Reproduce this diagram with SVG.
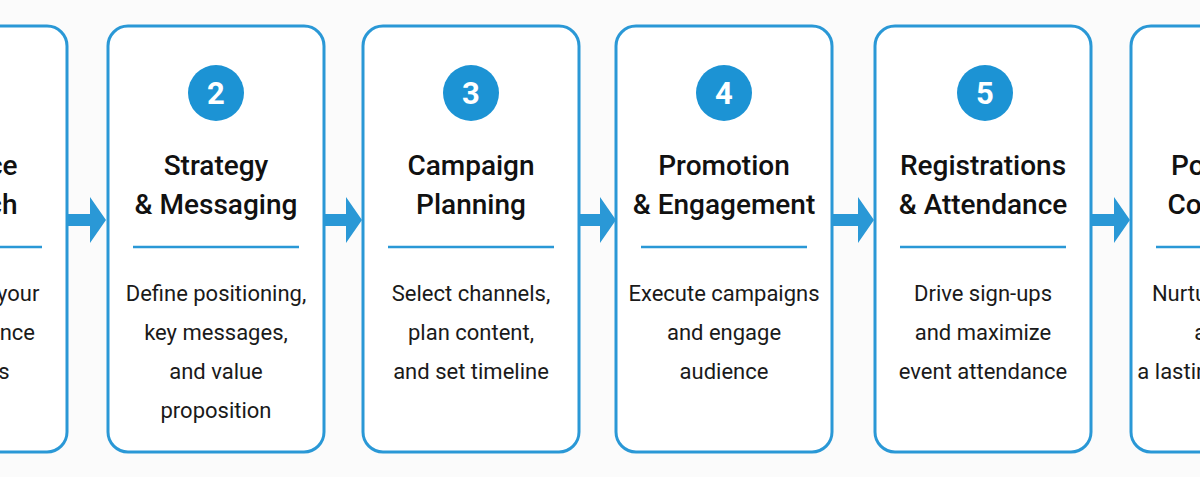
<svg xmlns="http://www.w3.org/2000/svg" width="1200" height="477" viewBox="0 0 1200 477">
<style>
.box{fill:#fff;stroke:#2a98d6;stroke-width:3}
.num{fill:#1c93d4}
.nt{font-family:Roboto,"Liberation Sans",sans-serif;font-weight:bold;font-size:31px;fill:#fff;text-anchor:middle}
.t{font-family:Roboto,"Liberation Sans",sans-serif;font-weight:500;font-size:28px;fill:#111;text-anchor:middle}
.b{font-family:Roboto,"Liberation Sans",sans-serif;font-size:22px;fill:#1a1a1a;text-anchor:middle}
.div{stroke:#2a98d6;stroke-width:2.5}
.arr{fill:#2a98d6}
</style>
<rect width="1200" height="477" fill="#fbfbfb"/>
<g id="node1">
<rect class="box" x="-149" y="26" width="216" height="426" rx="20"/>
<text class="t" x="-41" y="175">Audience</text>
<text class="t" x="-41" y="214">Research</text>
<line class="div" x1="-124" y1="247" x2="42" y2="247"/>
<text class="b" x="-41" y="301">Understand your</text>
<text class="b" x="-41" y="340">target audience</text>
<text class="b" x="-41" y="379">and needs</text>
</g>
<g id="node2">
<rect class="box" x="108" y="26" width="216" height="426" rx="20"/>
<circle class="num" cx="216" cy="93" r="28"/><text class="nt" x="216" y="104">2</text>
<text class="t" x="216" y="175">Strategy</text>
<text class="t" x="216" y="214">&amp; Messaging</text>
<line class="div" x1="133" y1="247" x2="299" y2="247"/>
<text class="b" x="216" y="301">Define positioning,</text>
<text class="b" x="216" y="340">key messages,</text>
<text class="b" x="216" y="379">and value</text>
<text class="b" x="216" y="418">proposition</text>
</g>
<g id="node3">
<rect class="box" x="363" y="26" width="216" height="426" rx="20"/>
<circle class="num" cx="471" cy="93" r="28"/><text class="nt" x="471" y="104">3</text>
<text class="t" x="471" y="175">Campaign</text>
<text class="t" x="471" y="214">Planning</text>
<line class="div" x1="388" y1="247" x2="554" y2="247"/>
<text class="b" x="471" y="301">Select channels,</text>
<text class="b" x="471" y="340">plan content,</text>
<text class="b" x="471" y="379">and set timeline</text>
</g>
<g id="node4">
<rect class="box" x="616" y="26" width="216" height="426" rx="20"/>
<circle class="num" cx="724" cy="93" r="28"/><text class="nt" x="724" y="104">4</text>
<text class="t" x="724" y="175">Promotion</text>
<text class="t" x="724" y="214">&amp; Engagement</text>
<line class="div" x1="641" y1="247" x2="807" y2="247"/>
<text class="b" x="724" y="301">Execute campaigns</text>
<text class="b" x="724" y="340">and engage</text>
<text class="b" x="724" y="379">audience</text>
</g>
<g id="node5">
<rect class="box" x="875" y="26" width="216" height="426" rx="20"/>
<circle class="num" cx="985" cy="93" r="28"/><text class="nt" x="985" y="104">5</text>
<text class="t" x="983" y="175">Registrations</text>
<text class="t" x="983" y="214">&amp; Attendance</text>
<line class="div" x1="900" y1="247" x2="1066" y2="247"/>
<text class="b" x="983" y="301">Drive sign-ups</text>
<text class="b" x="983" y="340">and maximize</text>
<text class="b" x="983" y="379">event attendance</text>
</g>
<g id="node6">
<rect class="box" x="1131" y="26" width="216" height="426" rx="20"/>
<text class="t" x="1239" y="175">Post-Event</text>
<text class="t" x="1239" y="214">Connection</text>
<line class="div" x1="1156" y1="247" x2="1322" y2="247"/>
<text class="b" x="1239" y="301">Nurture leads and</text>
<text class="b" x="1239" y="340">and build</text>
<text class="b" x="1239" y="379">a lasting relationship</text>
</g>
<g id="connectors">
<path class="arr" d="M68,214 h22 v-17 l16,23 l-16,23 v-17 h-22z"/>
<path class="arr" d="M324,214 h22 v-17 l16,23 l-16,23 v-17 h-22z"/>
<path class="arr" d="M579,214 h21 v-17 l16,23 l-16,23 v-17 h-21z"/>
<path class="arr" d="M832,214 h26 v-17 l16,23 l-16,23 v-17 h-26z"/>
<path class="arr" d="M1091,214 h23 v-17 l16,23 l-16,23 v-17 h-23z"/>
</g>
</svg>
